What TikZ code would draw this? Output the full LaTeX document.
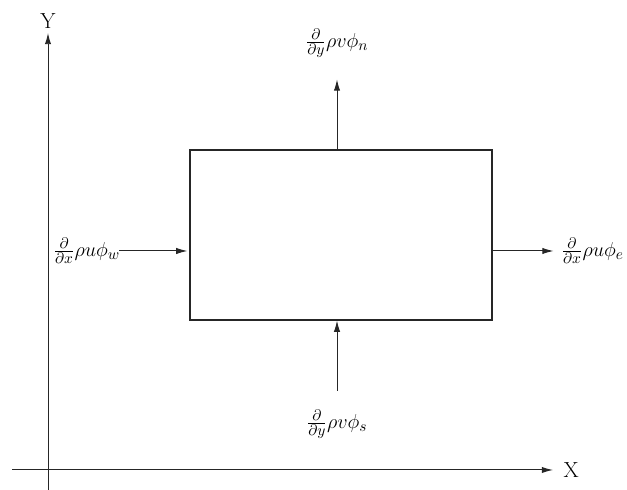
\documentclass[tikz,border=0pt]{standalone}
\usepackage{tikz}
\usetikzlibrary{arrows.meta,positioning,calc}

\begin{document}
\begin{tikzpicture}[x=0.025cm, y=0.025cm, >={Latex[length=8pt,width=4.5pt]},
    every node/.style = {font=\fontsize{15.5}{18}\selectfont},
    flux/.style = {->, line width=0.7pt, draw=black!85},
    cell/.style = {draw=black!85, line width=0.8pt, minimum width=302*0.025cm, minimum height=170*0.025cm, inner sep=0pt}]
  \useasboundingbox (0,0) rectangle (627,490);

  % axes
  \coordinate (ybot) at (48,0);
  \coordinate (ytop) at (48,457);
  \coordinate (xleft) at (12,20);
  \coordinate (xright) at (553,20);
  \draw[flux] (ybot) -- (ytop);
  \draw[flux] (xleft) -- (xright);
  \node[above = 0pt of ytop] (ylab) {Y};
  \node[right = 4pt of xright] (xlab) {X};

  % control volume
  \node[cell] (cv) at (341,255) {};

  \coordinate (n) at ($ (cv.north) + (-4,70) $);
  \coordinate (s) at ($ (cv.south) + (-4,-70) $);
  \coordinate (w) at ($ (cv.west) + (-70,-16) $);
  \coordinate (e) at ($ (cv.east) + (61,-16) $);

  \node[above = 12pt of n] (fn) {$\frac{\partial}{\partial y}\rho v\phi_n$};
  \node[below = 10pt of s] (fs) {$\frac{\partial}{\partial y}\rho v\phi_s$};
  \node[left = -4pt of w] (fw) {$\frac{\partial}{\partial x}\rho u\phi_w$};
  \node[right = 2pt of e] (fe) {$\frac{\partial}{\partial x}\rho u\phi_e$};

  \draw[flux] ($ (cv.north) + (-4,0) $) -- (n);
  \draw[flux] (s) -- ($ (cv.south) + (-4,0) $);
  \draw[flux] (w) -- ($ (cv.west) + (-2,-16) $);
  \draw[flux] ($ (cv.east) + (0,-16) $) -- (e);
\end{tikzpicture}
\end{document}
